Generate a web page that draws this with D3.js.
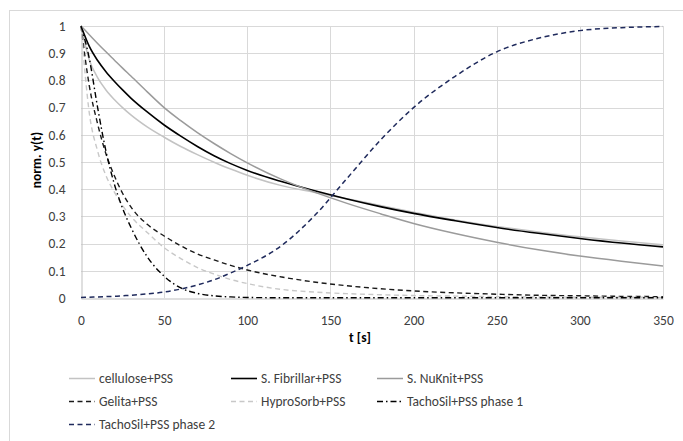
<!DOCTYPE html>
<html>
<head>
<meta charset="utf-8">
<script src="https://cdn.jsdelivr.net/npm/d3@7/dist/d3.min.js"></script>
<style>
  html, body { margin: 0; padding: 0; background: #fff; }
  svg { display: block; }
  text { font-family: Carlito, Calibri, Lato, "Liberation Sans", sans-serif; }
</style>
</head>
<body>
<svg id="chart" width="683" height="441"></svg>
<script>
// ---- data ----
const times = [0,5,10,15,20,25,30,40,50,60,70,80,90,100,120,140,160,180,200,225,250,275,300,325,350];
const cellulose = [1,0.875,0.81,0.765,0.73,0.70,0.673,0.628,0.591,0.557,0.527,0.499,0.474,0.451,0.414,0.389,0.365,0.34,0.315,0.287,0.263,0.243,0.225,0.21,0.196];
const fibrillar = [1,0.925,0.873,0.832,0.797,0.765,0.735,0.683,0.636,0.595,0.557,0.523,0.494,0.469,0.429,0.395,0.364,0.336,0.311,0.284,0.259,0.238,0.219,0.202,0.188];
const nuknit = [1,0.968,0.936,0.905,0.875,0.845,0.816,0.757,0.700,0.652,0.608,0.568,0.531,0.497,0.438,0.390,0.348,0.310,0.274,0.237,0.205,0.177,0.154,0.135,0.118];
const gelita = [1,0.78,0.64,0.53,0.45,0.385,0.335,0.27,0.228,0.192,0.162,0.14,0.12,0.103,0.078,0.059,0.045,0.034,0.026,0.019,0.014,0.01,0.008,0.006,0.005];
const hyprosorb = [1,0.68,0.54,0.45,0.39,0.34,0.30,0.24,0.185,0.145,0.112,0.088,0.068,0.053,0.032,0.022,0.016,0.012,0.009,0.007,0.005,0.004,0.003,0.003,0.002];
const tachoPhase1 = [1,0.88,0.70,0.54,0.42,0.33,0.26,0.15,0.08,0.037,0.017,0.008,0.004,0.002,0.001,0.001,0.001,0.001,0.001,0.001,0.001,0.001,0.001,0.001,0.001];
const tachoPhase2 = [0.002,0.003,0.004,0.005,0.006,0.008,0.01,0.015,0.022,0.033,0.048,0.067,0.092,0.12,0.19,0.30,0.44,0.58,0.70,0.815,0.905,0.955,0.983,0.994,0.998];

const seriesNames = ["cellulose+PSS","S. Fibrillar+PSS","S. NuKnit+PSS","Gelita+PSS","HyproSorb+PSS","TachoSil+PSS phase 1","TachoSil+PSS phase 2"];
const seriesValues = [cellulose, fibrillar, nuknit, gelita, hyprosorb, tachoPhase1, tachoPhase2];
const xTicks = [0,50,100,150,200,250,300,350];
const yTicks = [0,0.1,0.2,0.3,0.4,0.5,0.6,0.7,0.8,0.9,1];
const xTitle = "t [s]";
const yTitle = "norm. y(t)";

(function(){
// ---- styles ----
const styles = [
  {color:"#c3c3c3", width:1.5, dash:null},
  {color:"#000000", width:1.6, dash:null},
  {color:"#9b9b9b", width:1.5, dash:null},
  {color:"#1a1a1a", width:1.4, dash:"5,3.5"},
  {color:"#c8c8c8", width:1.4, dash:"5,3.5"},
  {color:"#000000", width:1.4, dash:"6,3,1.5,3"},
  {color:"#1f2a5c", width:1.5, dash:"5,3.5"}
];
const FONT = "Carlito, Calibri, Lato, 'Liberation Sans', sans-serif";

const svg = d3.select("#chart");
const pL = 81, pR = 663, pT = 26, pB = 298;

// outer chart border
svg.append("rect").attr("x",9.5).attr("y",10.5).attr("width",700).attr("height",460)
  .attr("fill","none").attr("stroke","#d9d9d9").attr("stroke-width",1);

const x = d3.scaleLinear().domain([0,350]).range([pL,pR]);
const y = d3.scaleLinear().domain([0,1]).range([pB,pT]);

// gridlines
const grid = svg.append("g");
grid.selectAll("line.h").data(yTicks.slice(1)).enter().append("line")
  .attr("x1",pL).attr("x2",pR)
  .attr("y1",d=>Math.round(y(d))+0.5).attr("y2",d=>Math.round(y(d))+0.5)
  .attr("stroke","#d9d9d9").attr("stroke-width",1);
grid.selectAll("line.v").data(xTicks.slice(1)).enter().append("line")
  .attr("y1",pT).attr("y2",pB)
  .attr("x1",d=>Math.round(x(d))+0.5).attr("x2",d=>Math.round(x(d))+0.5)
  .attr("stroke","#d9d9d9").attr("stroke-width",1);

// axes
const xAxis = d3.axisBottom(x).tickValues(xTicks).tickSize(0).tickPadding(17).tickFormat(d3.format("d"));
const yAxis = d3.axisLeft(y).tickValues(yTicks).tickSize(0).tickPadding(16).tickFormat(d=> d===0 ? "0" : d===1 ? "1" : d3.format(".1f")(d));

const gx = svg.append("g").attr("transform",`translate(0,${pB+0.5})`).call(xAxis);
gx.select(".domain").attr("stroke","#bfbfbf");
gx.selectAll("text").attr("font-size","13.5px").attr("fill","#404040").style("font-family",FONT);

const gy = svg.append("g").attr("transform",`translate(${pL+0.5},0)`).call(yAxis);
gy.select(".domain").attr("stroke","#bfbfbf");
gy.selectAll("text").attr("font-size","13.5px").attr("fill","#404040").style("font-family",FONT);

// axis titles
svg.append("text").attr("x",360).attr("y",342).attr("text-anchor","middle")
  .attr("font-size","13.5px").attr("font-weight","bold").attr("fill","#000").text(xTitle);
svg.append("text").attr("transform",`translate(41,160) rotate(-90)`).attr("text-anchor","middle")
  .attr("font-size","13.5px").attr("font-weight","bold").attr("fill","#000").text(yTitle);

// lines
const line = d3.line().x(d=>x(d[0])).y(d=>y(d[1])).curve(d3.curveMonotoneX);
const plot = svg.append("g");
seriesValues.forEach((vals,i)=>{
  const pts = times.map((t,j)=>[t, vals[j]]);
  const st = styles[i];
  plot.append("path").datum(pts).attr("d",line)
    .attr("fill","none").attr("stroke",st.color).attr("stroke-width",st.width)
    .attr("stroke-dasharray",st.dash).attr("stroke-linejoin","round");
});

// legend
const legPos = [
  {sx:69, tx:99, y:378},{sx:231, tx:261, y:378},{sx:377, tx:407, y:378},
  {sx:69, tx:99, y:401},{sx:231, tx:261, y:401},{sx:377, tx:407, y:401},
  {sx:69, tx:99, y:424}
];
const leg = svg.append("g");
seriesNames.forEach((name,i)=>{
  const p = legPos[i], st = styles[i];
  leg.append("line").attr("x1",p.sx).attr("x2",p.sx+26).attr("y1",p.y+0.5).attr("y2",p.y+0.5)
    .attr("stroke",st.color).attr("stroke-width",st.width).attr("stroke-dasharray",st.dash);
  leg.append("text").attr("x",p.tx).attr("y",p.y).attr("dy","0.35em")
    .attr("font-size","13.5px").attr("fill","#404040").text(name);
});
})();
</script>
</body>
</html>
